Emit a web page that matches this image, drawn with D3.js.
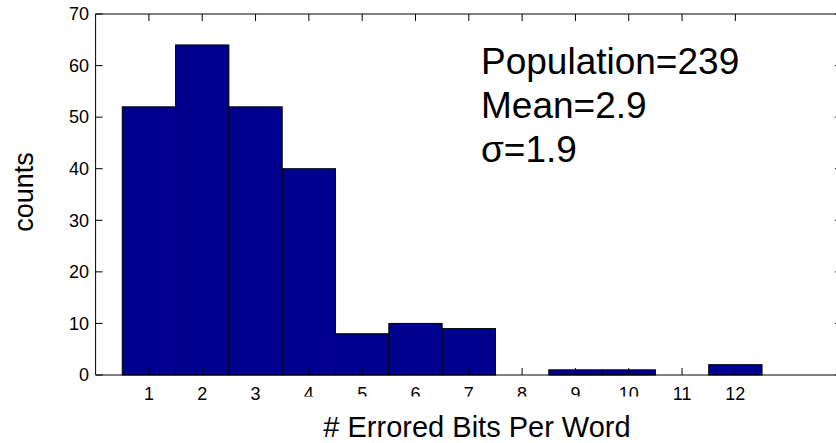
<!DOCTYPE html>
<html><head><meta charset="utf-8">
<script src="https://cdn.jsdelivr.net/npm/d3@7"></script>
<style>body{margin:0;background:#fff}svg{display:block}text{font-family:Arial,"Liberation Sans",sans-serif;fill:#000}</style>
</head><body><svg id="c" width="836" height="443"></svg>
<script>
const categories = [1,2,3,4,5,6,7,8,9,10,11,12];
const counts = [52,64,52,40,8,10,9,0,1,1,0,2];
const yTicks = [0,10,20,30,40,50,60,70];
const xTicks = [1,2,3,4,5,6,7,8,9,10,11,12];
const statLines = ["Population=239","Mean=2.9","\u03C3=1.9"];

const svg = d3.select("#c");
const x = d3.scaleLinear().domain([0,14]).range([95.6,842]);
const y = d3.scaleLinear().domain([0,70]).range([375,14]);
const tl = 7;

svg.append("g").selectAll("rect").data(categories).join("rect")
  .attr("x", d => x(d-0.5)).attr("width", d => x(d+0.5)-x(d-0.5))
  .attr("y", (d,i) => y(counts[i])).attr("height", (d,i) => y(0)-y(counts[i]))
  .attr("fill", "#00008F").attr("stroke", "#000").attr("stroke-width", 1);

const ax = svg.append("g").attr("stroke","#000").attr("stroke-width",1).attr("fill","none");
ax.append("path").attr("d", `M${x(0)},${y(0)}H${x(14)}M${x(0)},${y(70)}H${x(14)}M${x(0)},${y(0)}V${y(70)}M${x(14)},${y(0)}V${y(70)}`);
xTicks.forEach(t => {
  ax.append("path").attr("d", `M${x(t)},${y(0)}v${-tl}M${x(t)},${y(70)}v${tl}`);
});
yTicks.forEach(t => {
  ax.append("path").attr("d", `M${x(0)},${y(t)}h${tl}M${x(14)},${y(t)}h${-tl}`);
});

svg.append("g").selectAll("text").data(yTicks).join("text")
  .attr("x", 89).attr("y", d => y(d)).attr("dy","0.35em")
  .attr("text-anchor","end").attr("font-size",18).text(d => d);

svg.append("g").selectAll("text").data(xTicks).join("text")
  .attr("x", d => x(d)).attr("y", 400)
  .attr("text-anchor","middle").attr("font-size",18).text(d => d);

svg.append("rect").attr("x",292).attr("y",396.5).attr("width",368).attr("height",47).attr("fill","#fff");
svg.append("text").attr("x",477).attr("y",437).attr("text-anchor","middle").attr("font-size",29).text("# Errored Bits Per Word");

svg.append("text").attr("transform","translate(33,192) rotate(-90)").attr("text-anchor","middle").attr("font-size",27).text("counts");

svg.append("g").selectAll("text").data(statLines).join("text")
  .attr("x",481).attr("y",(d,i)=>74+i*44).attr("font-size",37).text(d=>d);
</script></body></html>
